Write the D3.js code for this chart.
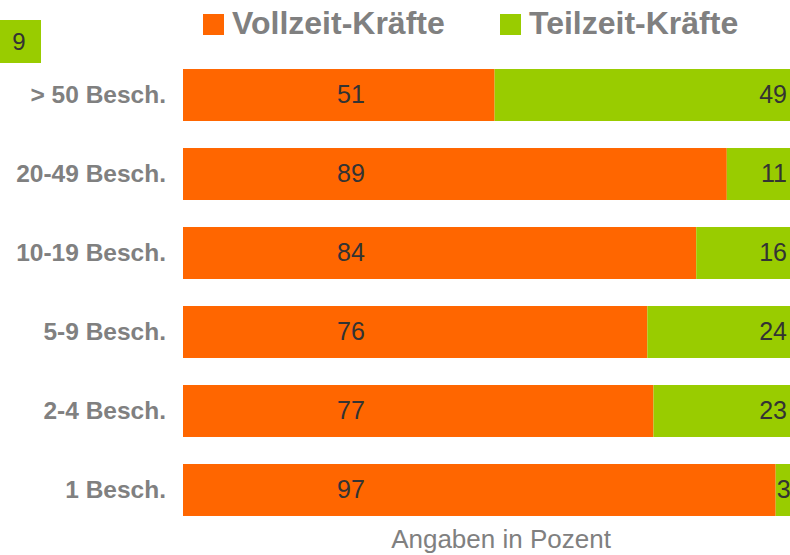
<!DOCTYPE html>
<html>
<head>
<meta charset="utf-8">
<script src="https://cdn.jsdelivr.net/npm/d3@7"></script>
<style>
  body { margin: 0; background: #fff; }
  text { font-family: "Liberation Sans", Arial, sans-serif; }
</style>
</head>
<body>
<div class="bar-chart"></div>
<script>
var categories = ["> 50 Besch.", "20-49 Besch.", "10-19 Besch.", "5-9 Besch.", "2-4 Besch.", "1 Besch."];
var vollzeit = [51, 89, 84, 76, 77, 97];
var teilzeit = [49, 11, 16, 24, 23, 3];
var seriesNames = ["Vollzeit-Kräfte", "Teilzeit-Kräfte"];
var colors = ["#FF6600", "#99CC00"];

var width = 790,
  height = 555;

var svg = d3.select(".bar-chart")
  .append("svg")
  .attr("width", width)
  .attr("height", height);

var x = d3.scaleLinear()
  .domain([0, 100])
  .range([183, 794]);

var y = d3.scaleBand()
  .domain(categories)
  .range([42, 543])
  .padding(0.342);

var rows = categories.map(function (c, i) {
  return { cat: c, v: vollzeit[i], t: teilzeit[i] };
});

// slide number box
svg.append("rect")
  .attr("x", 0).attr("y", 20)
  .attr("width", 41).attr("height", 43)
  .attr("fill", "#99CC00");
svg.append("text")
  .attr("x", 19).attr("y", 50)
  .attr("text-anchor", "middle")
  .attr("font-size", 24)
  .attr("fill", "#333")
  .text("9");

/* ------- BARS -------*/
var bars = svg.append("g").attr("class", "bars");

bars.selectAll("rect.voll")
  .data(rows)
  .enter().append("rect")
  .attr("class", "voll")
  .attr("x", x(0))
  .attr("y", function (d) { return y(d.cat); })
  .attr("width", function (d) { return x(d.v) - x(0); })
  .attr("height", y.bandwidth())
  .attr("fill", colors[0]);

bars.selectAll("rect.teil")
  .data(rows)
  .enter().append("rect")
  .attr("class", "teil")
  .attr("x", function (d) { return x(d.v); })
  .attr("y", function (d) { return y(d.cat); })
  .attr("width", function (d) { return x(d.v + d.t) - x(d.v); })
  .attr("height", y.bandwidth())
  .attr("fill", colors[1]);

/* ------- VALUE LABELS -------*/
var labels = svg.append("g").attr("class", "labels")
  .attr("font-size", 25)
  .attr("fill", "#333");

labels.selectAll("text.voll")
  .data(rows)
  .enter().append("text")
  .attr("x", x(27.5))
  .attr("y", function (d) { return y(d.cat) + y.bandwidth() / 2 + 8; })
  .attr("text-anchor", "middle")
  .text(function (d) { return d.v; });

labels.selectAll("text.teil")
  .data(rows)
  .enter().append("text")
  .attr("x", function (d) { return d.t < 5 ? x(d.v) + 1 : x(100) - 7; })
  .attr("y", function (d) { return y(d.cat) + y.bandwidth() / 2 + 8; })
  .attr("text-anchor", function (d) { return d.t < 5 ? "start" : "end"; })
  .text(function (d) { return d.t; });

/* ------- CATEGORY AXIS -------*/
svg.append("g").attr("class", "cats")
  .selectAll("text")
  .data(categories)
  .enter().append("text")
  .attr("x", 166)
  .attr("y", function (d) { return y(d) + y.bandwidth() / 2 + 8; })
  .attr("text-anchor", "end")
  .attr("font-size", 24.5)
  .attr("font-weight", "bold")
  .attr("fill", "#808080")
  .text(function (d) { return d; });

/* ------- LEGEND -------*/
var legendX = [203, 500];
var legend = svg.append("g").attr("class", "legend")
  .selectAll("g")
  .data(seriesNames)
  .enter().append("g")
  .attr("transform", function (d, i) { return "translate(" + legendX[i] + ",14)"; });

legend.append("rect")
  .attr("width", 21).attr("height", 21)
  .attr("fill", function (d, i) { return colors[i]; });

legend.append("text")
  .attr("x", 29).attr("y", 20)
  .attr("font-size", 32)
  .attr("font-weight", "bold")
  .attr("fill", "#808080")
  .text(function (d) { return d; });

// footer note
svg.append("text")
  .attr("x", 501).attr("y", 548)
  .attr("text-anchor", "middle")
  .attr("font-size", 26)
  .attr("fill", "#808080")
  .text("Angaben in Pozent");
</script>
</body>
</html>
